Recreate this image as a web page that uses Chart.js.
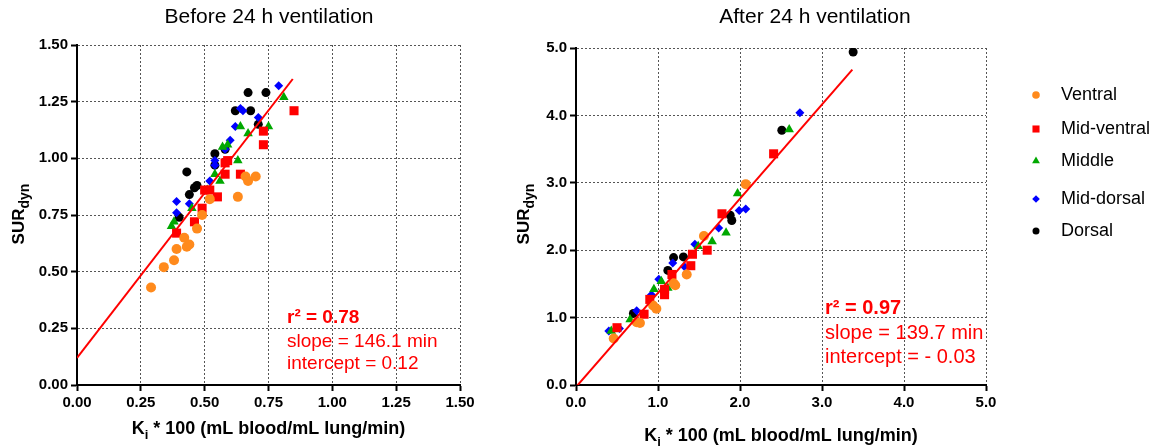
<!DOCTYPE html>
<html>
<head>
<meta charset="utf-8">
<script src="https://cdn.jsdelivr.net/npm/chart.js@4.4.1/dist/chart.umd.min.js"></script>
<style>
  html, body { margin: 0; padding: 0; background: #fff; }
  #wrap { position: relative; width: 1154px; height: 446px; }
  #left { position: absolute; left: 0; top: 0; }
  #right { position: absolute; left: 500px; top: 0; }
</style>
</head>
<body>
<div id="wrap">
  <canvas id="left" width="500" height="446"></canvas>
  <canvas id="right" width="654" height="446"></canvas>
</div>
<script>
// series names
var seriesNames = ["Ventral", "Mid-ventral", "Middle", "Mid-dorsal", "Dorsal"];

// Before 24 h ventilation : [Ki*100, SURdyn]
var beforeVentral = [[0.29,0.43],[0.34,0.52],[0.38,0.55],[0.39,0.60],[0.42,0.65],[0.43,0.61],[0.44,0.62],[0.47,0.69],[0.49,0.75],[0.52,0.82],[0.63,0.83],[0.66,0.92],[0.67,0.90],[0.70,0.92]];
var beforeMidVentral = [[0.39,0.67],[0.46,0.72],[0.49,0.78],[0.50,0.86],[0.52,0.86],[0.55,0.83],[0.58,0.93],[0.58,0.98],[0.59,0.99],[0.64,0.93],[0.73,1.12],[0.73,1.06],[0.85,1.21]];
var beforeMiddle = [[0.37,0.70],[0.38,0.72],[0.45,0.78],[0.51,0.86],[0.54,0.93],[0.56,0.90],[0.57,1.05],[0.59,1.06],[0.63,0.99],[0.64,1.14],[0.67,1.11],[0.75,1.14],[0.81,1.27]];
var beforeMidDorsal = [[0.39,0.81],[0.39,0.76],[0.44,0.80],[0.52,0.90],[0.54,0.99],[0.54,0.97],[0.58,1.04],[0.60,1.08],[0.62,1.14],[0.64,1.22],[0.65,1.21],[0.71,1.18],[0.79,1.32]];
var beforeDorsal = [[0.40,0.74],[0.43,0.94],[0.44,0.84],[0.46,0.87],[0.47,0.88],[0.54,1.02],[0.54,0.97],[0.58,1.04],[0.62,1.21],[0.67,1.29],[0.68,1.21],[0.71,1.15],[0.74,1.29]];
var beforeFit = [[0, 0.12], [0.845, 1.35]];

// After 24 h ventilation
var afterVentral = [[0.46,0.69],[0.74,0.93],[0.78,0.92],[0.94,1.18],[0.98,1.13],[1.19,1.51],[1.21,1.48],[1.35,1.64],[1.56,2.21],[2.07,2.98]];
var afterMidVentral = [[0.50,0.85],[0.83,1.05],[0.90,1.27],[1.08,1.34],[1.08,1.42],[1.17,1.64],[1.40,1.77],[1.42,1.94],[1.60,2.00],[1.78,2.54],[2.41,3.43]];
var afterMiddle = [[0.43,0.80],[0.66,0.97],[0.95,1.42],[1.04,1.54],[1.12,1.44],[1.49,2.06],[1.66,2.13],[1.83,2.26],[1.97,2.84],[2.60,3.79]];
var afterMidDorsal = [[0.40,0.80],[0.53,0.84],[0.74,1.10],[0.92,1.34],[1.01,1.57],[1.18,1.81],[1.32,1.76],[1.45,2.09],[1.74,2.33],[1.99,2.59],[2.07,2.61],[2.73,4.04]];
var afterDorsal = [[0.70,1.06],[1.12,1.70],[1.19,1.89],[1.31,1.90],[1.88,2.52],[1.90,2.44],[2.51,3.78],[3.38,4.94]];
var afterFit = [[0, -0.03], [3.37, 4.68]];

// axis ticks
var beforeTicks = [0, 0.25, 0.5, 0.75, 1.0, 1.25, 1.5];
var afterTicks = [0, 1, 2, 3, 4, 5];

// stats
var beforeStats = ["r\u00B2 = 0.78", "slope = 146.1 min", "intercept = 0.12"];
var afterStats = ["r\u00B2 = 0.97", "slope = 139.7 min", "intercept = - 0.03"];

var FONT = "'Liberation Sans', Arial, sans-serif";
var colors = ["#FF8A1C", "#FF0000", "#00A800", "#0000FF", "#000000"];
var styles = ["circle", "rect", "triangle", "rectRot", "circle"];
var radii = [5, 6.4, 5.5, 4.5, 4.5];

function toPts(arr) {
  return arr.map(function(p) { return { x: p[0], y: p[1] }; });
}

function buildDatasets(series, fit) {
  var ds = [{
    type: "line",
    data: toPts(fit),
    borderColor: "#FF0000",
    borderWidth: 2,
    pointRadius: 0,
    fill: false,
    order: 0
  }];
  for (var i = 0; i < series.length; i++) {
    ds.push({
      label: seriesNames[i],
      data: toPts(series[i]),
      backgroundColor: colors[i],
      pointStyle: styles[i],
      pointRadius: radii[i],
      pointHoverRadius: radii[i],
      pointBorderWidth: 0,
      order: 1
    });
  }
  return ds;
}

// draws "main" + subscript + rest, centered at cx
function drawSub(ctx, parts, size, subSize, cx, cy) {
  ctx.font = "bold " + size + "px " + FONT;
  var w1 = ctx.measureText(parts[0]).width;
  var w3 = ctx.measureText(parts[2]).width;
  ctx.font = "bold " + subSize + "px " + FONT;
  var w2 = ctx.measureText(parts[1]).width;
  var x = cx - (w1 + w2 + w3) / 2;
  var base = cy + size * 0.35;
  ctx.textAlign = "left";
  ctx.textBaseline = "alphabetic";
  ctx.font = "bold " + size + "px " + FONT;
  ctx.fillText(parts[0], x, base);
  ctx.font = "bold " + subSize + "px " + FONT;
  ctx.fillText(parts[1], x + w1, base + size * 0.28);
  ctx.font = "bold " + size + "px " + FONT;
  ctx.fillText(parts[2], x + w1 + w2, base);
}

var panelText = {
  id: "panelText",
  afterDraw: function(chart, args, o) {
    var ctx = chart.ctx;
    ctx.save();
    ctx.fillStyle = "#000";

    // title
    ctx.font = o.titleSize + "px " + FONT;
    ctx.textAlign = "center";
    ctx.textBaseline = "middle";
    ctx.fillText(o.title, o.titleX, o.titleY);

    // x axis title
    drawSub(ctx, ["K", "i", " * 100 (mL blood/mL lung/min)"], 18, 13, o.xTitleX, o.xTitleY);

    // y axis title, rotated
    ctx.save();
    ctx.translate(o.yTitleX, o.yTitleY);
    ctx.rotate(-Math.PI / 2);
    drawSub(ctx, ["SUR", "dyn", ""], 17, 14, 0, 0);
    ctx.restore();

    // regression stats
    ctx.fillStyle = "#FF0000";
    ctx.textAlign = "left";
    ctx.textBaseline = "middle";
    for (var i = 0; i < o.stats.length; i++) {
      ctx.font = (i === 0 ? "bold " : "") + o.statSize + "px " + FONT;
      ctx.fillText(o.stats[i], o.statX, o.statY[i]);
    }

    // legend
    if (o.legend) {
      var lg = o.legend;
      for (var j = 0; j < seriesNames.length; j++) {
        ctx.fillStyle = colors[j];
        Chart.helpers.drawPoint(ctx, { pointStyle: styles[j], radius: lg.radii[j], rotation: 0, borderWidth: 0 }, lg.markX, lg.rows[j]);
        ctx.fillStyle = "#000";
        ctx.font = "18px " + FONT;
        ctx.textAlign = "left";
        ctx.textBaseline = "middle";
        ctx.fillText(seriesNames[j], lg.textX, lg.rows[j]);
      }
    }
    ctx.restore();
  }
};

function axis(ticks, digits, fitKey, fitSize) {
  return {
    type: "linear",
    min: ticks[0],
    max: ticks[ticks.length - 1],
    afterBuildTicks: function(scale) {
      scale.ticks = ticks.map(function(v) { return { value: v }; });
    },
    afterFit: function(scale) { scale[fitKey] = fitSize; },
    ticks: {
      color: "#000",
      padding: 3,
      font: { family: FONT, size: 15, weight: "bold" },
      callback: function(v) { return Number(v).toFixed(digits); }
    },
    grid: {
      color: "#555",
      lineWidth: 1,
      tickColor: "#000",
      tickWidth: 2,
      tickLength: 6
    },
    border: { display: true, color: "#000", width: 2, dash: [2, 2] }
  };
}

function makeChart(id, series, fit, ticks, digits, yWidth, pad, text) {
  return new Chart(document.getElementById(id), {
    type: "scatter",
    data: { datasets: buildDatasets(series, fit) },
    options: {
      responsive: false,
      animation: false,
      events: [],
      layout: { padding: pad },
      scales: {
        x: axis(ticks, digits, "height", 61),
        y: axis(ticks, digits, "width", yWidth)
      },
      plugins: {
        legend: { display: false },
        tooltip: { enabled: false },
        panelText: text
      }
    },
    plugins: [panelText]
  });
}

makeChart("left",
  [beforeVentral, beforeMidVentral, beforeMiddle, beforeMidDorsal, beforeDorsal],
  beforeFit, beforeTicks, 2, 77,
  { top: 45, right: 40, left: 0, bottom: 0 },
  {
    title: "Before 24 h ventilation", titleSize: 21, titleX: 269, titleY: 17,
    xTitleX: 268.5, xTitleY: 428, yTitleX: 18, yTitleY: 214,
    stats: beforeStats, statSize: 19, statX: 287, statY: [318, 342, 364]
  });

makeChart("right",
  [afterVentral, afterMidVentral, afterMiddle, afterMidDorsal, afterDorsal],
  afterFit, afterTicks, 1, 76,
  { top: 48, right: 168, left: 0, bottom: 0 },
  {
    title: "After 24 h ventilation", titleSize: 21, titleX: 315, titleY: 17,
    xTitleX: 281, xTitleY: 435, yTitleX: 23, yTitleY: 214,
    stats: afterStats, statSize: 20, statX: 325, statY: [308, 333, 357],
    legend: {
      markX: 536, textX: 561,
      rows: [95, 129, 161, 199, 231],
      radii: [3.8, 5, 4.5, 3.8, 3.5]
    }
  });
</script>
</body>
</html>
